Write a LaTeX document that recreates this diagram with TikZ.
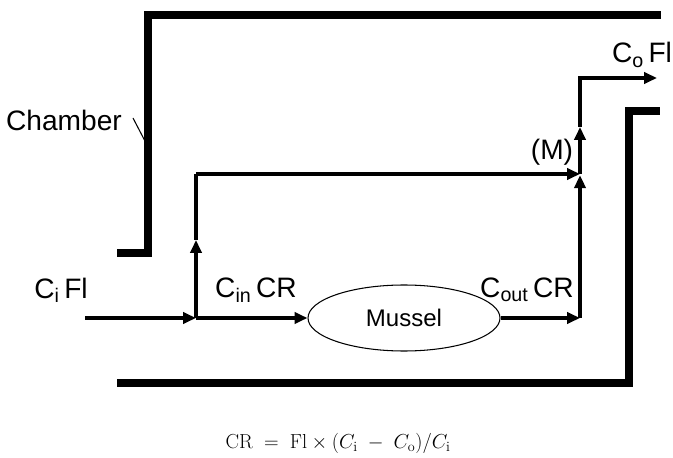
\documentclass[tikz,border=0pt]{standalone}
\usepackage{fontspec}
\usepackage{tikz}
\usetikzlibrary{arrows.meta,shapes.geometric}
\newfontfamily\labelfont{Liberation Sans}

\begin{document}
\begin{tikzpicture}[x=0.03cm, y=-0.03cm]
	\tikzstyle{flow} = [line width=2.8pt, -{Triangle[length=11pt, width=9.5pt]}]
	\tikzstyle{pipe} = [line width=2.8pt]
	\tikzstyle{wall} = [line width=6.2pt, line join=miter]
	\tikzstyle{lbl} = [font=\labelfont\fontsize{24}{28}\selectfont, inner sep=0pt]
	\useasboundingbox (0,0) rectangle (673,458);
	% chamber walls
	\draw [wall] (117,253) -- (148,253) -- (148,15) -- (661,15);
	\draw [wall] (117,383) -- (629,383) -- (629,111) -- (660,111);
	\node [lbl] (chamber) at (64,120) {Chamber};
	\coordinate (lead) at (133,118);
	\coordinate (chwall) at (146,143);
	\draw [line width=0.9pt] (lead) -- (chwall);
	% flow points
	\coordinate (in) at (85,318);
	\coordinate (j1) at (196,318);
	\coordinate (j1u) at (196,240);
	\coordinate (j1t) at (196,174);
	\node [ellipse, draw, line width=0.9pt, minimum width=5.76cm, minimum height=1.98cm,
		font=\labelfont\fontsize{20.5}{24}\selectfont] (mussel) at (404,318) {Mussel};
	\coordinate (j2) at (580,318);
	\coordinate (j3) at (580,174);
	\coordinate (j3u) at (580,127);
	\coordinate (j4) at (580,78);
	\coordinate (out) at (657,78);
	% flows
	\draw [flow] (in) -- (j1);
	\draw [flow] (j1) -- (mussel.west);
	\draw [flow] (mussel.east) -- (j2);
	\draw [flow] (j1) -- (j1u);
	\draw [pipe] (j1u) -- (j1t);
	\draw [flow] (j1t) -- (j3);
	\draw [flow] (j2) -- ([yshift=-1pt]j3);
	\draw [flow] (j3) -- (j3u);
	\draw [flow] (j3u) -- (j4) -- (out);
	% labels
	\node [lbl] (cifl) at (61,290) {C\textsubscript{i}\,Fl};
	\node [lbl] (cincr) at (256,290) {C\textsubscript{in}\,CR};
	\node [lbl] (coutcr) at (527,290) {C\textsubscript{out}\,CR};
	\node [lbl] (mix) at (552,152) {(M)};
	\node [lbl] (cofl) at (642,55) {C\textsubscript{o}\,Fl};
	\node [font=\fontsize{17.3}{20}\selectfont] (eq) at (338,443)
		{$\mathrm{CR} \;=\; \mathrm{Fl}\times(C_{\mathrm{i}} \;-\; C_{\mathrm{o}})/C_{\mathrm{i}}$};
\end{tikzpicture}
\end{document}
